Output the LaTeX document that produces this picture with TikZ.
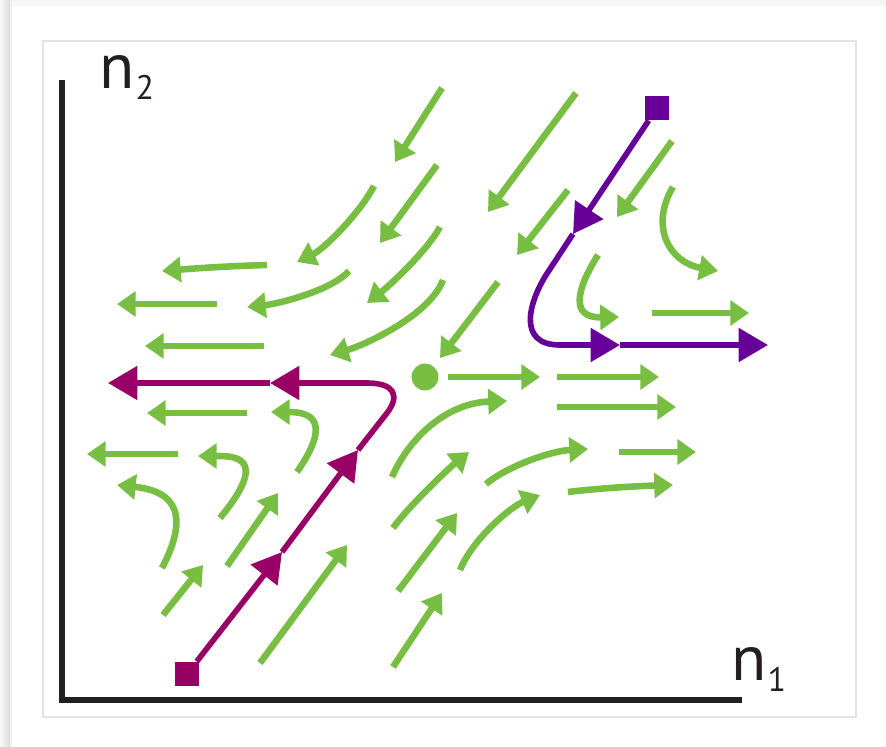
\documentclass[tikz,border=0pt]{standalone}
\usepackage{fontspec}
\setmainfont{PT Sans}
\usepackage{tikz}
\usetikzlibrary{arrows.meta,calc}
\definecolor{FlowGreen}{RGB}{119,190,67}
\definecolor{PathPurple}{RGB}{102,0,153}
\definecolor{PathMagenta}{RGB}{153,0,102}
\definecolor{AxisBlack}{RGB}{35,31,32}
\newcommand{\axislabel}[4]{%
    \node[anchor=base west,inner sep=0pt,text=AxisBlack,font=\fontsize{55}{55}\selectfont] (#1) at (#2) {n\kern1pt\raisebox{#3}{\fontsize{29}{29}\selectfont #4}};
}
\tikzset{
    flow/.style={FlowGreen,line width=5.6pt,-{Triangle[length=16pt,width=21pt]}},
    orbit/.style={line width=4.8pt,-{Triangle[length=25pt,width=28pt]}},
    fixpt/.style={circle,fill=FlowGreen,inner sep=0pt,minimum size=23pt},
    startsq/.style={rectangle,inner sep=0pt,minimum size=21pt}
}

\begin{document}
\begin{tikzpicture}[x=0.03cm,y=-0.03cm]
    \useasboundingbox (0,0) rectangle (886,746);
    \fill[white] (0,0) rectangle (886,746);
    \fill[gray!7] (12,0) rectangle (886,6);
    \shade[left color=gray!6,right color=gray!28] (0,0) rectangle (10,746);
    \fill[gray!12] (10,0) rectangle (12,746);
    \draw[gray!22,line width=1.2pt] (43,41) rectangle (856,717);
    \draw[AxisBlack,line width=5pt] (62,80) -- (62,700) -- (742,700);
    \axislabel{ylab}{99,88}{-9.4pt}{2}
    \axislabel{xlab}{731,680}{-10pt}{1}

    \draw[flow] (442,88) -- (395,162);
    \draw[flow] (437,165) -- (380,243);
    \draw[flow] (374,186) .. controls (360,213) and (324,249) .. (297,262);
    \draw[flow] (440,227) .. controls (427,251) and (389,286) .. (367,303);
    \draw[flow] (267,265) .. controls (230,266) and (200,268) .. (162,271);
    \draw[flow] (349,271) .. controls (331,291) and (277,304) .. (247,307);
    \draw[flow] (217,304) -- (117,304);
    \draw[flow] (443,280) .. controls (430,315) and (365,345) .. (330,355);
    \draw[flow] (264,346) -- (145,346);
    \draw[flow] (498,282) -- (440,358);
    \draw[flow] (576,93) -- (488,212);
    \draw[flow] (568,190) -- (517,255);
    \draw[flow] (672,141) -- (617,217);
    \draw[flow] (673,187) .. controls (650,225) and (668,262) .. (718,271);
    \draw[flow] (598,255) .. controls (576,290) and (570,318) .. (619,317);
    \draw[flow] (652,313) -- (749,313);
    \draw[flow] (448,377) -- (540,377);
    \draw[flow] (557,377) -- (659,377);
    \draw[flow] (557,407) -- (676,407);
    \draw[flow] (392,477) .. controls (408,440) and (445,403) .. (507,401);
    \draw[flow] (393,528) .. controls (408,507) and (449,468) .. (469,452);
    \draw[flow] (486,484) .. controls (506,467) and (550,451) .. (588,449);
    \draw[flow] (619,452) -- (696,452);
    \draw[flow] (568,492) .. controls (600,488) and (640,486) .. (673,485);
    \draw[flow] (460,570) .. controls (472,540) and (510,507) .. (540,495);
    \draw[flow] (398,591) -- (457,513);
    \draw[flow] (393,667) -- (442,593);
    \draw[flow] (247,413) -- (147,413);
    \draw[flow] (297,472) .. controls (333,420) and (310,412) .. (271,412);
    \draw[flow] (178,454) -- (87,454);
    \draw[flow] (220,518) .. controls (272,455) and (232,456) .. (198,456);
    \draw[flow] (162,568) .. controls (195,505) and (165,490) .. (117,485);
    \draw[flow] (227,566) -- (278,493);
    \draw[flow] (163,615) -- (203,565);
    \draw[flow] (260,663) -- (347,545);

    \node[fixpt] (fp) at (425,377) {};
    \node[startsq,fill=PathPurple] (sA) at (657,108) {};
    \node[startsq,fill=PathMagenta] (sB) at (187,674) {};

    \draw[orbit,PathPurple] (sA) -- (573,234);
    \draw[orbit,PathPurple] (573,234) -- (548,272) .. controls (530,299) and (515,345) .. (560,345) -- (620,345);
    \draw[orbit,PathPurple] (620,345) -- (768,345);

    \draw[orbit,PathMagenta] (sB) -- (282,552);
    \draw[orbit,PathMagenta] (282,552) -- (358,450);
    \draw[orbit,PathMagenta] (358,450) -- (387,413) .. controls (400,396) and (395,383) .. (367,383) -- (270,383);
    \draw[orbit,PathMagenta] (270,383) -- (108,383);
\end{tikzpicture}
\end{document}
